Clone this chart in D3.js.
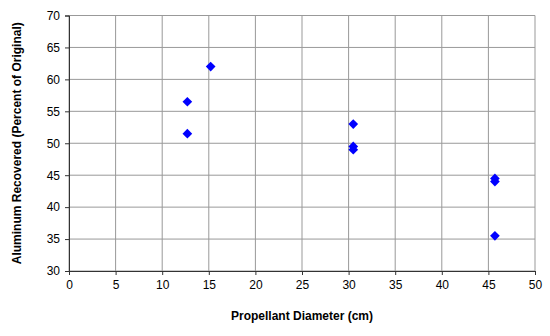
<!DOCTYPE html>
<html><head><meta charset="utf-8">
<script src="https://cdn.jsdelivr.net/npm/d3@7"></script>
<style>body{margin:0;background:#fff}svg{display:block}text{font-family:"Liberation Sans",Arial,sans-serif}</style>
</head><body>
<svg id="c" width="550" height="336"></svg>
<script>
const diameters = [12.7, 12.7, 15.2, 30.5, 30.5, 30.5, 45.7, 45.7, 45.7];
const recovered = [56.5, 51.5, 62, 53, 49.5, 49, 44.5, 44, 35.5];
const xTicks = [0, 5, 10, 15, 20, 25, 30, 35, 40, 45, 50];
const yTicks = [30, 35, 40, 45, 50, 55, 60, 65, 70];
const xTitle = "Propellant Diameter (cm)";
const yTitle = "Aluminum Recovered (Percent of Original)";

const svg = d3.select("#c");
const L = 69, R = 535, T = 15.5, B = 271;
const x = d3.scaleLinear().domain([0, 50]).range([L, R]);
const y = d3.scaleLinear().domain([30, 70]).range([B, T]);

// gridlines
svg.append("g").selectAll("line").data(xTicks).join("line")
  .attr("x1", d => x(d)).attr("x2", d => x(d)).attr("y1", T).attr("y2", B)
  .attr("stroke", "#999").attr("stroke-width", 1);
svg.append("g").selectAll("line").data(yTicks).join("line")
  .attr("x1", L).attr("x2", R).attr("y1", d => y(d)).attr("y2", d => y(d))
  .attr("stroke", "#999").attr("stroke-width", 1);

const xa = svg.append("g").attr("transform", `translate(0,${B})`)
  .call(d3.axisBottom(x).tickValues(xTicks).tickSize(4).tickPadding(5).tickFormat(d3.format("d")));
const ya = svg.append("g").attr("transform", `translate(${L},0)`)
  .call(d3.axisLeft(y).tickValues(yTicks).tickSize(4).tickPadding(5).tickFormat(d3.format("d")));
[xa, ya].forEach(a => {
  a.selectAll("path,line").attr("stroke", "#333");
  a.selectAll("text").attr("font-size", 12).attr("fill", "#000")
   .attr("font-family", '"Liberation Sans",Arial,sans-serif');
});

// diamonds
const sym = d3.symbol().type(d3.symbolDiamond2).size(60);
svg.append("g").selectAll("path").data(diameters.map((d, i) => [d, recovered[i]])).join("path")
  .attr("d", sym)
  .attr("transform", d => `translate(${x(d[0])},${y(d[1])})`)
  .attr("fill", "#0000ff");

svg.append("text").attr("x", (L + R) / 2).attr("y", 320).attr("text-anchor", "middle")
  .attr("font-size", 12).attr("font-weight", "bold").text(xTitle);
svg.append("text").attr("transform", `translate(21,${(T + B) / 2}) rotate(-90)`)
  .attr("text-anchor", "middle").attr("font-size", 12).attr("font-weight", "bold").text(yTitle);
</script>
</body></html>
